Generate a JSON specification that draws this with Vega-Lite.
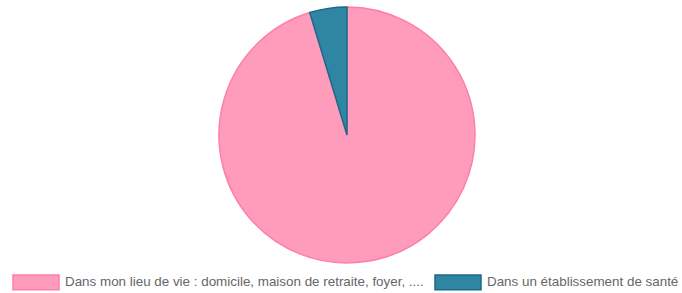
{
  "$schema": "https://vega.github.io/schema/vega-lite/v6.json",
  "width": 670,
  "height": 270,
  "padding": {"left": 12, "top": 0, "right": 0, "bottom": 0},
  "background": "white",
  "config": {"view": {"stroke": null}},
  "data": {
    "values": [
      {"lieu": "Dans mon lieu de vie : domicile, maison de retraite, foyer, ....", "pct": 95.3, "ordre": 1},
      {"lieu": "Dans un établissement de santé", "pct": 4.7, "ordre": 2}
    ]
  },
  "mark": {"type": "arc", "outerRadius": 128, "strokeWidth": 1.5},
  "encoding": {
    "theta": {"field": "pct", "type": "quantitative", "stack": true},
    "order": {"field": "ordre", "type": "quantitative"},
    "color": {
      "field": "lieu",
      "type": "nominal",
      "sort": ["Dans mon lieu de vie : domicile, maison de retraite, foyer, ....", "Dans un établissement de santé"],
      "scale": {
        "domain": ["Dans mon lieu de vie : domicile, maison de retraite, foyer, ....", "Dans un établissement de santé"],
        "range": ["#FF9BBB", "#2F86A2"]
      },
      "legend": {
        "title": null,
        "orient": "none",
        "legendX": 0,
        "legendY": 258,
        "direction": "horizontal",
        "columns": 2,
        "columnPadding": 8,
        "padding": 0,
        "symbolType": "M-1,-0.32H1V0.32H-1Z",
        "symbolSize": 2116,
        "symbolStrokeWidth": 1.5,
        "symbolOpacity": 1,
        "labelOffset": 5,
        "labelFont": "Liberation Sans",
        "labelFontSize": 13.4,
        "labelColor": "#666666",
        "labelLimit": 600
      }
    },
    "stroke": {
      "field": "lieu",
      "type": "nominal",
      "scale": {
        "domain": ["Dans mon lieu de vie : domicile, maison de retraite, foyer, ....", "Dans un établissement de santé"],
        "range": ["#FF7FA6", "#1A6A8A"]
      },
      "legend": null
    }
  }
}
